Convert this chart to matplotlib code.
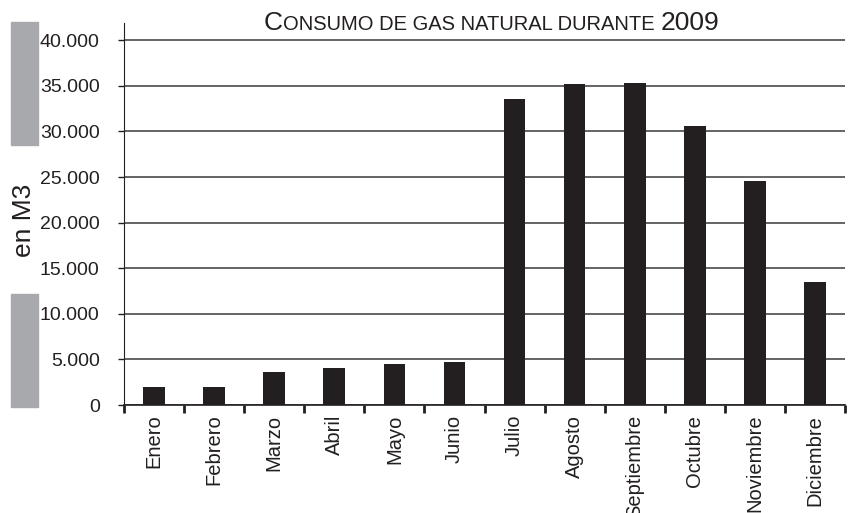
import matplotlib
matplotlib.use('Agg')
import matplotlib.pyplot as plt
from matplotlib.patches import Rectangle
from matplotlib.ticker import FuncFormatter
import numpy as np

months = ['Enero', 'Febrero', 'Marzo', 'Abril', 'Mayo', 'Junio', 'Julio',
          'Agosto', 'Septiembre', 'Octubre', 'Noviembre', 'Diciembre']
consumo = [2000, 2000, 3600, 4050, 4550, 4700, 33600, 35250, 35300, 30600, 24550, 13500]
yticks = [0, 5000, 10000, 15000, 20000, 25000, 30000, 35000, 40000]

plt.rcParams['font.family'] = ['Liberation Sans', 'DejaVu Sans']

W, H = 851, 513
fig = plt.figure(figsize=(W / 100, H / 100), dpi=100)
ax = fig.add_axes([124 / W, (H - 405) / H, (845 - 124) / W, (405 - 23) / H])

x = np.arange(len(months))
ax.bar(x, consumo, width=0.36, color='#231f20', zorder=3)

ax.set_xlim(-0.5, len(months) - 0.5)
ax.set_ylim(0, 41900)
ax.set_yticks(yticks)
ax.yaxis.set_major_formatter(FuncFormatter(lambda v, p: f'{int(v):,}'.replace(',', '.')))
ax.yaxis.grid(True, color='#3a3a3a', linewidth=1.1, zorder=0)

ax.set_xticks(x)
ax.set_xticklabels(months, rotation=90, va='top', ha='center')
ax.set_xticks(np.arange(-0.5, len(months), 1), minor=True)
ax.tick_params(axis='x', which='major', length=0, pad=7, labelsize=14.5, colors='#231f20')
ax.tick_params(axis='x', which='minor', length=5.5, width=2, direction='out', color='#231f20')
ax.tick_params(axis='y', length=4.5, width=1, pad=13, labelsize=14, colors='#231f20')

for s in ['top', 'right']:
    ax.spines[s].set_visible(False)
ax.spines['left'].set_color('#231f20')
ax.spines['bottom'].set_color('#231f20')
ax.spines['bottom'].set_linewidth(1.2)

# grey side bars
for y0, y1 in [(22, 145), (294, 407)]:
    fig.patches.append(Rectangle((11 / W, 1 - y1 / H), 27 / W, (y1 - y0) / H,
                                 transform=fig.transFigure, color='#a7a9ac', zorder=0))

fig.text(24 / W, 1 - 220 / H, 'en M3', rotation=90, ha='center', va='center',
         fontsize=19, color='#231f20')

# small caps title
parts = [('C', 19), ('ONSUMO DE GAS NATURAL DURANTE ', 14.5), ('2009', 19)]
renderer = fig.canvas.get_renderer()
texts = []
total = 0
for s, fs in parts:
    t = fig.text(0, 0, s, fontsize=fs, va='baseline', ha='left', color='#231f20')
    w = t.get_window_extent(renderer).width
    texts.append((t, w))
    total += w
xpos = 491.5 - total / 2
for t, w in texts:
    t.set_position((xpos / W, 1 - 30 / H))
    xpos += w

fig.savefig('out.png', dpi=100)
